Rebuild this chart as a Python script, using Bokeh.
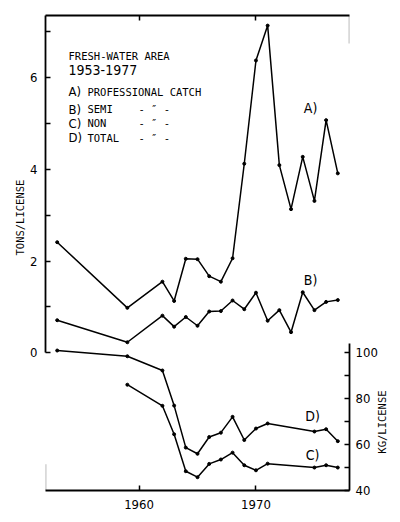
from math import pi
from bokeh.plotting import figure
from bokeh.models import LinearAxis, Range1d, FixedTicker, Label, BoxAnnotation, Title
from bokeh.embed import file_html
from bokeh.resources import INLINE

# ---- data ----
years_ab = [1953, 1959, 1962, 1963, 1964, 1965, 1966, 1967, 1968,
            1969, 1970, 1971, 1972, 1973, 1974, 1975, 1976, 1977]
professional = [2.41, 0.98, 1.55, 1.13, 2.05, 2.04, 1.67, 1.55, 2.06,
                4.12, 6.37, 7.13, 4.09, 3.13, 4.27, 3.31, 5.07, 3.91]
semi = [0.71, 0.23, 0.81, 0.57, 0.78, 0.59, 0.90, 0.91, 1.14,
        0.95, 1.31, 0.70, 0.93, 0.45, 1.32, 0.93, 1.11, 1.15]

years_c = [1959, 1962, 1963, 1964, 1965, 1966, 1967, 1968, 1969,
           1970, 1971, 1975, 1976, 1977]
non_kg = [86.1, 76.9, 64.5, 48.4, 45.8, 51.6, 53.5, 56.5, 51.0,
          48.8, 51.7, 50.0, 51.0, 50.0]

years_d = [1953, 1959, 1962, 1963, 1964, 1965, 1966, 1967, 1968,
           1969, 1970, 1971, 1975, 1976, 1977]
total_kg = [101.0, 98.5, 92.3, 77.0, 58.7, 56.0, 63.3, 65.2, 72.1,
            62.0, 67.0, 69.2, 65.7, 66.7, 61.5]

year_ticks = [1960, 1970]
tons_ticks = [0, 2, 4, 6]
tons_minor = [1, 3, 5, 7]
kg_ticks = [40, 60, 80, 100]
kg_minor = [50, 70, 90]

title_lines = ["FRESH-WATER AREA", "1953-1977"]
legend_keys = ["A)", "B)", "C)", "D)"]
legend_names = ["PROFESSIONAL CATCH", "SEMI", "NON", "TOTAL"]
ditto = "- \u2033 -"
left_title = "TONS/LICENSE"
right_title = "KG/LICENSE"

# ---- styling ----
NARROW = "DejaVu Sans Condensed, Roboto"
MONO = "DejaVu Sans Mono"
X0, X1 = 1952, 1978
Y0, Y1 = -3.0, 7.35
KG0 = 40
KG1 = 100 + 20 * Y1

p = figure(width=396, height=520, output_backend="svg", toolbar_location=None,
           x_range=Range1d(X0, X1), y_range=Range1d(Y0, Y1),
           x_axis_type=None, y_axis_type=None,
           min_border_left=45, min_border_right=47, min_border_top=15,
           min_border_bottom=30)
p.outline_line_color = None
p.xgrid.visible = False
p.ygrid.visible = False
p.background_fill_color = "white"
p.border_fill_color = "white"
p.extra_y_ranges = {"kg": Range1d(KG0, KG1)}

AXW = 1.8


def style_axis(ax):
    ax.axis_line_width = AXW
    ax.axis_line_color = "black"
    ax.major_tick_in = 5
    ax.major_tick_out = 0
    ax.minor_tick_in = 5
    ax.minor_tick_out = 0
    ax.major_tick_line_width = 1.5
    ax.minor_tick_line_width = 1.5
    ax.major_label_text_font = NARROW
    ax.major_label_text_font_size = "13px"
    ax.major_label_text_color = "black"


bottom = LinearAxis(ticker=FixedTicker(ticks=year_ticks))
style_axis(bottom)
bottom.major_label_standoff = 9
p.add_layout(bottom, "below")

top = LinearAxis(ticker=FixedTicker(ticks=year_ticks))
style_axis(top)
top.major_label_overrides = {1960: "", 1970: ""}
top.major_label_text_font_size = "1px"
top.major_label_standoff = 0
p.add_layout(top, "above")

left = LinearAxis(ticker=FixedTicker(ticks=tons_ticks, minor_ticks=tons_minor),
                  bounds=(0, Y1))
style_axis(left)
left.major_label_standoff = 8
p.add_layout(left, "left")

right = LinearAxis(y_range_name="kg",
                   ticker=FixedTicker(ticks=kg_ticks, minor_ticks=kg_minor),
                   bounds=(KG0, 104))
style_axis(right)
right.major_label_standoff = 6
p.add_layout(right, "right")

# left title as a side title (not clipped to the frame)
p.add_layout(Title(text=left_title, align="left", offset=235, standoff=4,
                   text_font=MONO, text_font_size="10.5px",
                   text_font_style="normal", text_color="black"), "left")

# right title as a label in the right side panel
p.add_layout(Label(x=1980.78, y=-1.508, text=right_title, angle=pi / 2,
                   text_align="center", text_baseline="middle",
                   text_font=MONO, text_font_size="10.5px", text_color="black"),
             "right")

# frame stubs
p.add_layout(BoxAnnotation(left=X0, right=X0, bottom=Y0, top=-2.43,
                           fill_alpha=0, line_color="black", line_width=AXW))
p.add_layout(BoxAnnotation(left=X1, right=X1, bottom=6.74, top=Y1,
                           fill_alpha=0, line_color="black", line_width=AXW))

LW = 1.5
p.line(years_ab, professional, line_color="black", line_width=LW)
p.scatter(years_ab, professional, size=3, color="black")
p.line(years_ab, semi, line_color="black", line_width=LW)
p.scatter(years_ab, semi, size=3, color="black")
p.line(years_c, non_kg, line_color="black", line_width=LW, y_range_name="kg")
p.scatter(years_c, non_kg, size=3, color="black", y_range_name="kg")
p.line(years_d, total_kg, line_color="black", line_width=LW, y_range_name="kg")
p.scatter(years_d, total_kg, size=3, color="black", y_range_name="kg")

# legend block
p.add_layout(Label(x=1953.97, y=6.478, text=title_lines[0], text_font=MONO,
                   text_font_size="10.5px", text_baseline="middle", text_color="black"))
p.add_layout(Label(x=1953.97, y=6.152, text=title_lines[1], text_font=NARROW,
                   text_font_size="14px", text_baseline="middle", text_color="black"))
key_y = [5.694, 5.302, 5.007, 4.681]
for i in range(4):
    p.add_layout(Label(x=1953.97, y=key_y[i], text=legend_keys[i], text_font=NARROW,
                       text_font_size="13px", text_baseline="middle", text_color="black"))
    p.add_layout(Label(x=1955.59, y=key_y[i], text=legend_names[i], text_font=MONO,
                       text_font_size="10.5px", text_baseline="middle", text_color="black"))
    if i > 0:
        p.add_layout(Label(x=1959.95, y=key_y[i], text=ditto, text_font=MONO,
                           text_font_size="10.5px", text_baseline="middle", text_color="black"))

# series tags
tag_pos = {"A)": (1974.67, 5.345), "B)": (1974.67, 1.597),
           "D)": (1974.84, -1.366), "C)": (1974.84, -2.216)}
for k, (tx, ty) in tag_pos.items():
    p.add_layout(Label(x=tx, y=ty, text=k, text_font=NARROW, text_font_size="14px",
                       text_align="center", text_baseline="middle", text_color="black"))

open("out.html", "w").write(file_html(p, INLINE))
